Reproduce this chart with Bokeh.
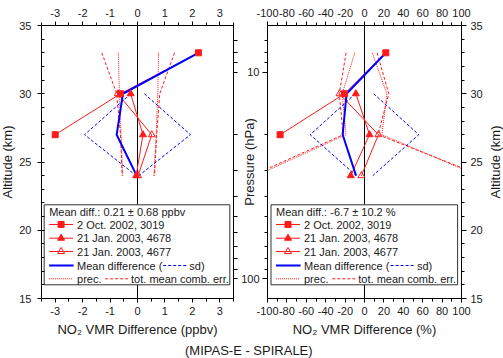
import math

from bokeh.core.properties import value
from bokeh.embed import file_html
from bokeh.layouts import column, row
from bokeh.models import FixedTicker, LinearAxis, LogScale, NumeralTickFormatter, Range1d, Span
from bokeh.plotting import figure
from bokeh.resources import INLINE

FONT = "Liberation Sans"
RED = "#ff1a1a"
BLUE = "#0000ff"
INK = "#1a1a1a"

# ---------------------------------------------------------------- data
# altitude levels (km)
alt_all = [33, 30, 27, 24]
alt_3019 = [33, 30, 27]
alt_jan = [30, 27, 24]

series_labels = ["2 Oct. 2002, 3019", "21 Jan. 2003, 4678", "21 Jan. 2003, 4677"]

# absolute differences MIPAS-E - SPIRALE (ppbv)
ppbv_3019 = [2.22, -0.62, -3.00]
ppbv_4678 = [-0.25, 0.20, -0.05]
ppbv_4677 = [-0.72, 0.52, 0.02]
ppbv_mean = [2.22, -0.53, -0.76, -0.03]
ppbv_sd = [0.25, 1.93, 0.05]                 # on alt_jan
ppbv_prec_lo = [-0.70, -0.66, -0.60, -0.54]
ppbv_prec_hi = [0.77, 0.74, 0.68, 0.60]
ppbv_tot_lo = [-1.30, -0.76, -0.62, -0.56]
ppbv_tot_hi = [1.35, 0.81, 0.70, 0.62]

# relative differences (%)
pct_3019 = [22.0, -20.6, -87.0]
pct_4678 = [-8.9, 5.2, -14.2]
pct_4677 = [-25.8, 14.4, -3.2]
pct_mean = [22.0, -18.5, -22.5, -8.7]
pct_sd = [9.5, 56.0, 8.5]                    # on alt_jan
pct_prec_lo = [-10.0, -23.0, -19.0, -112.0]
pct_prec_hi = [8.0, 23.0, 18.0, 117.0]
pct_tot_lo = [-19.0, -26.0, -22.0, -116.0]
pct_tot_hi = [13.0, 25.0, 14.0, 121.0]

mean_text_ppbv = "Mean diff.: 0.21 \u00b1 0.68 ppbv"
mean_text_pct = "Mean diff.: -6.7 \u00b1 10.2 %"

# axis ticks
alt_ticks = [15, 20, 25, 30, 35]
alt_minor = list(range(15, 36))
ppbv_ticks = [-3, -2, -1, 0, 1, 2, 3]
ppbv_minor = [-3.5, -2.5, -1.5, -0.5, 0.5, 1.5, 2.5, 3.5]
pct_ticks = [-100, -80, -60, -40, -20, 0, 20, 40, 60, 80, 100]
pct_minor = [-90, -70, -50, -30, -10, 10, 30, 50, 70, 90]
p_ticks = [10, 100]
p_minor = [7, 8, 9, 20, 30, 40, 50, 60, 70, 80, 90]
P_BOT, P_TOP = 124.6, 5.94          # pressure at 15 km and 35 km (hPa)

FIG_H = 340
TOP_B, BOT_B = 25, 42
FH = FIG_H - TOP_B - BOT_B


def make_fig(width, xr, bl, br):
    fw = width - bl - br
    p = figure(width=width, height=FIG_H, x_range=Range1d(*xr), y_range=Range1d(15, 35),
               min_border_left=bl, min_border_right=br,
               min_border_top=TOP_B, min_border_bottom=BOT_B,
               x_axis_location=None, y_axis_location=None,
               toolbar_location=None, output_backend="svg",
               background_fill_color="white", border_fill_color="white",
               outline_line_color="black")
    p.extra_x_ranges = {"px": Range1d(0, fw)}
    p.extra_y_ranges = {"px": Range1d(FH, 0), "p": Range1d(P_BOT, P_TOP)}
    p.extra_y_scales = {"p": LogScale()}
    p.grid.visible = False
    return p


def text_strip(width, height, x, y, text, angle=0.0):
    """A bare canvas (frame == canvas, pixel coordinates from top-left) holding one text."""
    s = figure(width=width, height=height, x_range=Range1d(0, width),
               y_range=Range1d(height, 0), min_border=0,
               x_axis_location=None, y_axis_location=None,
               toolbar_location=None, output_backend="svg", outline_line_color=None,
               background_fill_color="white", border_fill_color="white")
    s.grid.visible = False
    s.text(x=[x], y=[y], text=[text], angle=angle, text_font=value(FONT),
           text_font_size="13px", text_align="center", text_baseline="middle",
           text_color=INK)
    return s


def style_axis(ax, out=4, minor_out=0, minor_in=0, standoff=4):
    ax.major_tick_out = out
    ax.major_tick_in = 0
    ax.minor_tick_out = minor_out
    ax.minor_tick_in = minor_in
    ax.major_label_standoff = standoff
    ax.axis_line_color = "black"
    ax.major_tick_line_color = "black"
    ax.minor_tick_line_color = "black"
    ax.major_label_text_font = FONT
    ax.major_label_text_font_size = "11px"
    ax.major_label_text_color = INK
    ax.axis_label_text_font = FONT
    ax.axis_label_text_font_size = "13px"
    ax.axis_label_text_font_style = "normal"
    ax.axis_label_text_color = INK


def x_axes(p, ticks, minor, label):
    top = LinearAxis(ticker=FixedTicker(ticks=ticks, minor_ticks=minor),
                     formatter=NumeralTickFormatter(format="0"))
    style_axis(top, out=4, minor_out=3, standoff=5)
    p.add_layout(top, "above")
    bot = LinearAxis(ticker=FixedTicker(ticks=ticks, minor_ticks=minor), axis_label=label,
                     formatter=NumeralTickFormatter(format="0"))
    style_axis(bot, out=4, minor_out=3, standoff=4)
    bot.axis_label_standoff = 4
    p.add_layout(bot, "below")


def draw_profiles(p, s3019, s4678, s4677, mean, sd, prec_lo, prec_hi, tot_lo, tot_hi):
    p.add_layout(Span(location=0, dimension="height", line_color="black",
                      line_width=1, level="underlay"))
    # precision (dotted) and total mean combined error (dashed)
    for xs in (prec_lo, prec_hi):
        p.line(xs, alt_all, line_color=RED, line_width=1, line_dash="1 1")
    for xs in (tot_lo, tot_hi):
        p.line(xs, alt_all, line_color=RED, line_width=1, line_dash="3 2")
    # standard deviation envelope
    p.line([-v for v in sd], alt_jan, line_color=BLUE, line_width=1, line_dash="3 2")
    p.line(sd, alt_jan, line_color=BLUE, line_width=1, line_dash="3 2")
    # individual coincidences
    p.line(s3019, alt_3019, line_color=RED, line_width=1)
    p.line(s4678, alt_jan, line_color=RED, line_width=1)
    p.line(s4677, alt_jan, line_color=RED, line_width=1)
    # mean difference
    p.line(mean, alt_all, line_color=BLUE, line_width=2)
    p.scatter(s3019, alt_3019, marker="square", size=6, fill_color=RED, line_color=RED)
    p.scatter(s4678, alt_jan, marker="triangle", size=7, fill_color=RED, line_color=RED)
    p.scatter(s4677, alt_jan, marker="triangle", size=7, fill_alpha=0, line_color=RED)


def draw_legend(p, title, dx):
    kw = dict(x_range_name="px", y_range_name="px")
    p.quad(left=[2.7 + dx], right=[189.3 + dx], top=[179.3], bottom=[259.3],
           fill_color="white", line_color="#333333", line_width=1, **kw)
    rows = [186.0, 199.0, 212.7, 226.0, 240.0, 253.3]
    x0, x1 = 7.7 + dx, 31.7 + dx
    xm = (x0 + x1) / 2
    tx = 35.7 + dx

    def txt(x, y, s):
        p.text(x=[x], y=[y], text=[s], text_font=value(FONT), text_font_size="11px",
               text_baseline="middle", text_align="left", text_color=INK, **kw)

    txt(x0, rows[0], title)
    markers = [("square", 6, 1.0), ("triangle", 7, 1.0), ("triangle", 7, 0.0)]
    for lab, (mk, sz, fa), y in zip(series_labels, markers, rows[1:4]):
        p.line([x0, x1], [y, y], line_color=RED, line_width=1, **kw)
        p.scatter([xm], [y], marker=mk, size=sz, fill_color=RED, fill_alpha=fa,
                  line_color=RED, **kw)
        txt(tx, y, lab)
    y = rows[4]
    p.line([x0, x1 + 0.6], [y, y], line_color=BLUE, line_width=2, **kw)
    txt(tx, y, "Mean difference (")
    p.line([122.3 + dx, 146.0 + dx], [y, y], line_color=BLUE, line_width=1,
           line_dash="3 2", **kw)
    txt(148.6 + dx, y, "sd)")
    y = rows[5]
    p.line([x0, x1], [y, y], line_color=RED, line_width=1, line_dash="1 1", **kw)
    txt(tx, y, "prec.")
    p.line([64.0 + dx, 87.7 + dx], [y, y], line_color=RED, line_width=1,
           line_dash="3 2", **kw)
    txt(90.0 + dx, y, "tot. mean comb. err.")


# ---------------------------------------------------------------- left panel (ppbv)
left = make_fig(222, (-3.5, 3.5), 24, 5)
ax = LinearAxis(ticker=FixedTicker(ticks=alt_ticks, minor_ticks=alt_minor))
style_axis(ax, out=4, minor_in=3, standoff=6)
left.add_layout(ax, "left")
# pressure tick marks only (labels are carried by the right-hand panel)
ax = LinearAxis(y_range_name="p", ticker=FixedTicker(ticks=[], minor_ticks=p_minor + p_ticks))
style_axis(ax, out=5, minor_out=4, standoff=0)
left.add_layout(ax, "right")
x_axes(left, ppbv_ticks, ppbv_minor, "NO\u2082 VMR Difference (ppbv)")
draw_profiles(left, ppbv_3019, ppbv_4678, ppbv_4677, ppbv_mean, ppbv_sd,
              ppbv_prec_lo, ppbv_prec_hi, ppbv_tot_lo, ppbv_tot_hi)
draw_legend(left, mean_text_ppbv, 0.0)

# ---------------------------------------------------------------- right panel (%)
right = make_fig(247, (-100, 100), 29, 24)
ax = LinearAxis(y_range_name="p", ticker=FixedTicker(ticks=p_ticks, minor_ticks=p_minor),
                axis_label="Pressure (hPa)")
style_axis(ax, out=5, minor_out=3, standoff=3)
ax.axis_label_standoff = -19
right.add_layout(ax, "left")
ax = LinearAxis(ticker=FixedTicker(ticks=alt_ticks, minor_ticks=alt_minor))
style_axis(ax, out=5, minor_out=3, standoff=4)
right.add_layout(ax, "right")
x_axes(right, pct_ticks, pct_minor, "NO\u2082 VMR Difference (%)")
draw_profiles(right, pct_3019, pct_4678, pct_4677, pct_mean, pct_sd,
              pct_prec_lo, pct_prec_hi, pct_tot_lo, pct_tot_hi)
draw_legend(right, mean_text_pct, 0.8)

# ---------------------------------------------------------------- side titles and caption
alt_left = text_strip(16, FIG_H, 7, 170, "Altitude (km)", angle=math.pi / 2)
alt_right = text_strip(18, FIG_H, 10, 170, "Altitude (km)", angle=math.pi / 2)
cap = text_strip(503, 18, 248.3, 9.5, "(MIPAS-E - SPIRALE)")

layout = column(row(alt_left, left, right, alt_right), cap)
open("out.html", "w").write(file_html(layout, INLINE))
